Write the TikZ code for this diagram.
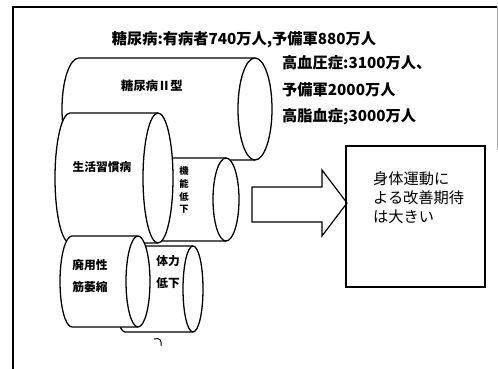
\documentclass[tikz,border=0pt]{standalone}
\usepackage{fontspec}
\setmainfont{Noto Sans CJK JP}
\usepackage{tikz}

% a drum lying on its side: left x, end centre x, top y, bottom y, end radius
\newcommand\drum[5]{%
  \filldraw[drumline] (#2,#3) -- ({#1+#5},#3)
    arc[start angle=270,end angle=90,x radius=#5,y radius={(#4-#3)/2}] -- (#2,#4);
  \filldraw[drumline] (#2,{(#3+#4)/2}) ellipse[x radius=#5,y radius={(#4-#3)/2}];
}

\tikzset{
  drumline/.style={line width=1.1pt,fill=white},
  drumtext/.style={font=\bfseries\fontsize{10}{18.5}\selectfont,align=center,inner sep=0pt},
  stattext/.style={font=\bfseries\fontsize{13}{15}\selectfont,inner sep=0pt},
}

\begin{document}
\begin{tikzpicture}[x=0.03cm,y=-0.03cm]
      \useasboundingbox (0,0) rectangle (498,369);

      % open frame round the slide
      \draw[line width=1pt] (13,369) -- (13,7) -- (497,7);
      \draw[gray!60,line width=0.6pt] (497,7) -- (497,150);

      \node[stattext] (diabetes) at (244,40) {糖尿病:有病者740万人,予備軍880万人};
      \node[stattext,anchor=west] (pressure) at (282,63) {高血圧症:3100万人、};
      \node[stattext,anchor=west] (reserve) at (282,90) {予備軍2000万人};
      \node[stattext,anchor=west] (lipid) at (282,117) {高脂血症;3000万人};

      % drums, back ones first
      \drum{62}{255}{58}{160}{17}
      \drum{150}{226}{158}{241}{13}
      \drum{55}{158}{113}{243}{15}
      \drum{115}{193}{246}{332}{10}
      \drum{60}{138}{236}{327}{12}

      \node[drumtext,font=\bfseries\fontsize{10.5}{12}\selectfont] (type2) at (152,86) {糖尿病Ⅱ型};
      \node[drumtext] (lifestyle) at (102,167) {生活習慣病};
      \node[drumtext,font=\bfseries\fontsize{8}{11}\selectfont] (function) at (184,190) {機\\能\\低\\下};
      \node[drumtext] (disuse) at (90,276) {廃用性\\筋萎縮};
      \node[drumtext] (stamina) at (168,272) {体力\\低下};
      \draw[line width=0.8pt] (154,339) .. controls (160,337) and (162,341) .. (161,346);

      % block arrow into the result box
      \draw[line width=1pt] (252,187) -- (322,187) -- (322,170) -- (347,203)
        -- (322,236) -- (322,222) -- (252,222) -- cycle;

      \node[draw,line width=1pt,minimum width=139*0.03cm,minimum height=141*0.03cm,
        inner sep=0pt] (result) at (415.5,216.5) {};
      \node[font=\fontsize{13}{16.2}\selectfont,align=left,anchor=north west,inner sep=0pt]
        (effect) at (373,171) {身体運動に\\よる改善期待\\は大きい};
    \end{tikzpicture}
\end{document}
